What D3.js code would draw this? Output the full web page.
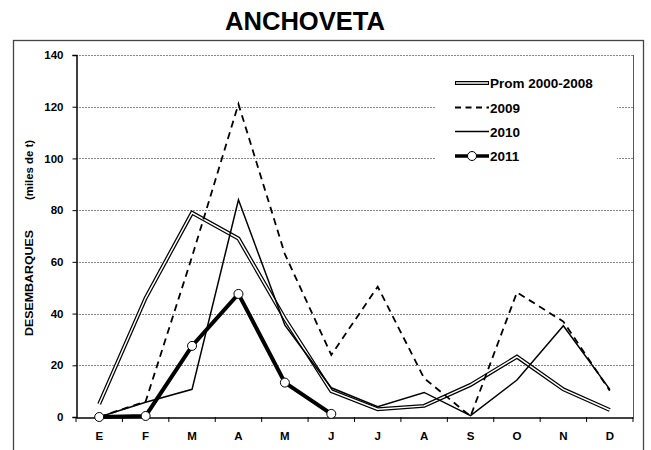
<!DOCTYPE html>
<html><head><meta charset="utf-8">
<script src="https://cdn.jsdelivr.net/npm/d3@7"></script>
<style>body{margin:0;background:#fff}svg{display:block}text{font-family:"Liberation Sans",Arial,sans-serif;font-weight:bold}</style>
</head><body><svg id="c" width="651" height="450"></svg>
<script>
const months = ["E","F","M","A","M","J","J","A","S","O","N","D"];
const prom = [5,46,79,69,38,10,3,4.3,12.4,23.3,10.7,2.7];
const y2009 = [0,6,62,121,63,24,50.4,15,0.3,48.2,36.9,10.2];
const y2010 = [0,5.7,10.7,84,35.5,11.3,4,9.5,0.5,14.3,35.3,10.7];
const y2011 = [0,0.4,27.5,47.6,13.3,1.2];
const yTicks = [0,20,40,60,80,100,120,140];
const legendLabels = ["Prom 2000-2008","2009","2010","2011"];

const svg = d3.select("#c");
const L=76,R=633,T=55,B=417;
const idx = d3.range(12);
const x = d3.scaleBand().domain(idx).range([L,R]);
const cx = i => x(i)+x.bandwidth()/2;
const y = d3.scaleLinear().domain([0,140]).range([B,T]);

// outer frame
svg.append("rect").attr("x",13.5).attr("y",40.5).attr("width",630).attr("height",420)
  .attr("fill","none").attr("stroke","#444").attr("stroke-width",1.3);

// title
svg.append("text").attr("x",305).attr("y",30).attr("text-anchor","middle")
  .attr("font-size",26).attr("textLength",160).attr("lengthAdjust","spacingAndGlyphs").text("ANCHOVETA");

// gridlines
svg.append("g").selectAll("line").data(yTicks.filter(d=>d>0)).join("line")
  .attr("x1",L).attr("x2",R).attr("y1",d=>Math.round(y(d))+0.5).attr("y2",d=>Math.round(y(d))+0.5)
  .attr("stroke","#888").attr("stroke-width",1).attr("stroke-dasharray","2,1");
// right frame
svg.append("line").attr("x1",R+0.5).attr("x2",R+0.5).attr("y1",T).attr("y2",B).attr("stroke","#555");

// y axis
const ya = svg.append("g").attr("transform",`translate(${L+0.5},0)`)
  .call(d3.axisLeft(y).tickValues(yTicks).tickSize(4).tickPadding(9));
ya.select(".domain").attr("stroke","#000").attr("stroke-width",1.5);
ya.selectAll("text").attr("font-size",11.5).attr("font-family","Liberation Sans, Arial").attr("font-weight","bold").attr("fill","#000");

// x axis
const xa = svg.append("g").attr("transform",`translate(0,${B+0.5})`)
  .call(d3.axisBottom(x).tickSize(0).tickPadding(14).tickFormat(i=>months[i]));
xa.select(".domain").attr("stroke","#000").attr("stroke-width",1.5);
xa.selectAll("text").attr("font-size",11.5).attr("font-family","Liberation Sans, Arial").attr("font-weight","bold").attr("fill","#000");
svg.append("g").selectAll("line").data(d3.range(13)).join("line")
  .attr("x1",i=>L+i*x.step()).attr("x2",i=>L+i*x.step()).attr("y1",B).attr("y2",B+5)
  .attr("stroke","#000").attr("stroke-width",1);

// axis title
svg.append("text").attr("transform","translate(33,283) rotate(-90)").attr("text-anchor","middle")
  .attr("font-size",11.5).attr("textLength",106).attr("lengthAdjust","spacingAndGlyphs").text("DESEMBARQUES");
svg.append("text").attr("transform","translate(33,170) rotate(-90)").attr("text-anchor","middle")
  .attr("font-size",11.5).attr("textLength",60).attr("lengthAdjust","spacingAndGlyphs").text("(miles de t)");

// legend background
svg.append("rect").attr("x",436).attr("y",68).attr("width",181).attr("height",100).attr("fill","#fff");

const line = d3.line().x((d,i)=>cx(i)).y(d=>y(d));
const g = svg.append("g");
// prom double line
g.append("path").datum(prom).attr("d",line).attr("fill","none").attr("stroke","#000").attr("stroke-width",4).attr("stroke-linejoin","miter");
g.append("path").datum(prom).attr("d",line).attr("fill","none").attr("stroke","#fff").attr("stroke-width",1.5).attr("stroke-linejoin","miter");
// 2009
g.append("path").datum(y2009).attr("d",line).attr("fill","none").attr("stroke","#000").attr("stroke-width",1.8).attr("stroke-dasharray","7,5");
// 2010
g.append("path").datum(y2010).attr("d",line).attr("fill","none").attr("stroke","#000").attr("stroke-width",1.5);
// 2011
g.append("path").datum(y2011).attr("d",line).attr("fill","none").attr("stroke","#000").attr("stroke-width",4);
g.selectAll("circle").data(y2011).join("circle").attr("cx",(d,i)=>cx(i)).attr("cy",d=>y(d)).attr("r",4.5)
  .attr("fill","#fff").attr("stroke","#000").attr("stroke-width",1);

// legend
const ly=[83,107.5,131.5,156];
const lg = svg.append("g");
legendLabels.forEach((lab,k)=>{
  const yy=ly[k], x1=455,x2=489;
  if(k===0){
    lg.append("line").attr("x1",x1).attr("x2",x2).attr("y1",yy).attr("y2",yy).attr("stroke","#000").attr("stroke-width",4);
    lg.append("line").attr("x1",x1+1).attr("x2",x2-1).attr("y1",yy).attr("y2",yy).attr("stroke","#fff").attr("stroke-width",1.5);
  } else if(k===1){
    lg.append("line").attr("x1",x1).attr("x2",x2).attr("y1",yy).attr("y2",yy).attr("stroke","#000").attr("stroke-width",1.8).attr("stroke-dasharray","6,4.5");
  } else if(k===2){
    lg.append("line").attr("x1",x1).attr("x2",x2).attr("y1",yy).attr("y2",yy).attr("stroke","#000").attr("stroke-width",1.5);
  } else {
    lg.append("line").attr("x1",x1).attr("x2",x2).attr("y1",yy).attr("y2",yy).attr("stroke","#000").attr("stroke-width",3.5);
    lg.append("circle").attr("cx",(x1+x2)/2).attr("cy",yy).attr("r",4.5).attr("fill","#fff").attr("stroke","#000");
  }
  lg.append("text").attr("x",490).attr("y",yy+5).attr("font-size",13.5).text(lab);
});
</script></body></html>
